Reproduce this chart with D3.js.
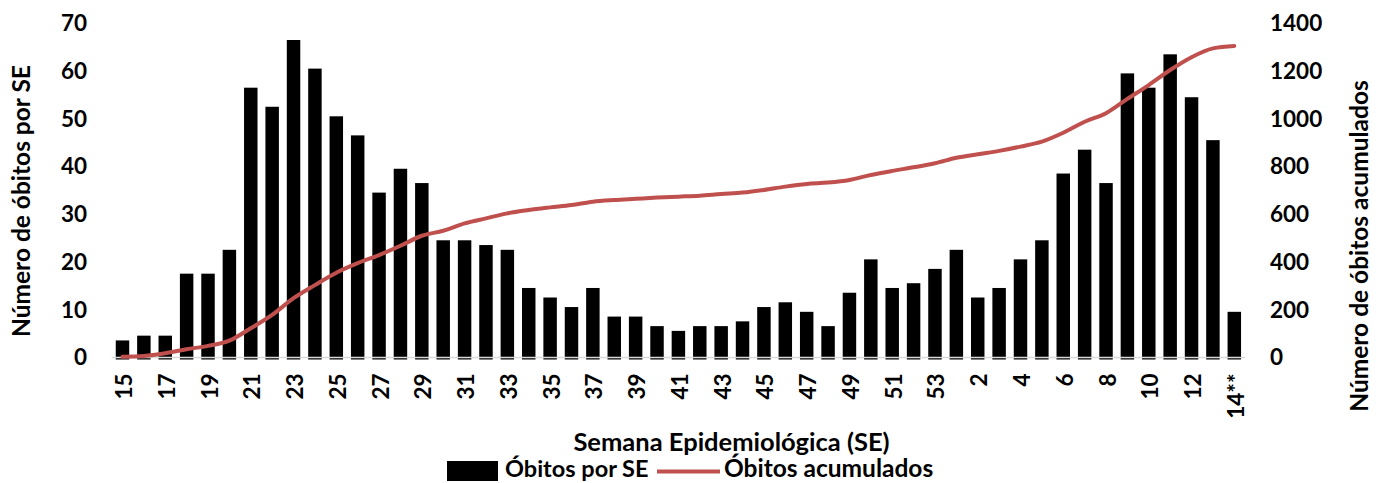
<!DOCTYPE html>
<html>
<head>
<meta charset="utf-8">
<script src="https://cdn.jsdelivr.net/npm/d3@7"></script>
<style>
  html, body { margin: 0; padding: 0; background: #fff; }
  svg { display: block; }
  text { font-family: Lato, "Open Sans", sans-serif; font-weight: bold; fill: #000; }
</style>
</head>
<body>
<svg id="chart" width="1381" height="483"></svg>
<script>
// Semana epidemiológica (2020: 15–53, 2021: 1–14**)
const semanas = ["15","16","17","18","19","20","21","22","23","24","25","26","27","28","29","30",
  "31","32","33","34","35","36","37","38","39","40","41","42","43","44","45","46","47","48","49",
  "50","51","52","53","1","2","3","4","5","6","7","8","9","10","11","12","13","14**"];

const obitosPorSE = [4,5,5,18,18,23,57,53,67,61,51,47,35,40,37,25,
  25,24,23,15,13,11,15,9,9,7,6,7,7,8,11,12,10,7,14,
  21,15,16,19,23,13,15,21,25,39,44,37,60,57,64,55,46,10];

const obitosAcumulados = [12,15,26,43,57,79,131,187,257,312,364,404,438,477,519,540,
  571,592,613,627,638,648,662,669,674,679,683,687,694,700,711,725,736,742,753,
  774,791,806,823,846,861,875,893,914,951,997,1033,1093,1151,1214,1268,1305,1315];

const ticksEsq = [0,10,20,30,40,50,60,70];
const ticksDir = [0,200,400,600,800,1000,1200,1400];

const tituloEsq = "Número de óbitos por SE";
const tituloDir = "Número de óbitos acumulados";
const tituloX = "Semana Epidemiológica (SE)";
const legendaBarras = "Óbitos por SE";
const legendaLinha = "Óbitos acumulados";

const corLinha = "#C0504D";
const fs = 22.5;

const svg = d3.select("#chart");

const idx = semanas.map((d, i) => i);
const x = d3.scaleBand().domain(idx).range([111.8, 1245.0]).paddingInner(0.37).paddingOuter(0.185);
const yL = d3.scaleLinear().domain([0, 70]).range([359.5, 25.7]);
const yR = d3.scaleLinear().domain([0, 1400]).range([359.5, 25.7]);

// bars
svg.append("g").selectAll("rect").data(obitosPorSE).join("rect")
  .attr("x", (d, i) => x(i))
  .attr("width", x.bandwidth())
  .attr("y", d => yL(d))
  .attr("height", d => yL(0) - yL(d))
  .attr("fill", "#000");

// category axis line
svg.append("line")
  .attr("x1", x.range()[0]).attr("x2", x.range()[1])
  .attr("y1", yL(0) - 2).attr("y2", yL(0) - 2)
  .attr("stroke", "#D9D9D9").attr("stroke-width", 1.6);

// line
const line = d3.line()
  .x((d, i) => x(i) + x.bandwidth() / 2)
  .y(d => yR(d))
  .curve(d3.curveMonotoneX);
svg.append("path").datum(obitosAcumulados)
  .attr("d", line)
  .attr("fill", "none")
  .attr("stroke", corLinha)
  .attr("stroke-width", 4)
  .attr("stroke-linecap", "round")
  .attr("stroke-linejoin", "round");

// left axis
const axL = svg.append("g").attr("transform", "translate(90,0)")
  .call(d3.axisLeft(yL).tickValues(ticksEsq).tickFormat(d3.format("d")).tickSize(0).tickPadding(3));
axL.select(".domain").remove();
axL.selectAll("text").attr("font-size", fs).attr("font-family", null).attr("transform", "translate(0,-2)");

// right axis
const axR = svg.append("g").attr("transform", "translate(1267,0)")
  .call(d3.axisRight(yR).tickValues(ticksDir).tickFormat(d3.format("d")).tickSize(0).tickPadding(3));
axR.select(".domain").remove();
axR.selectAll("text").attr("font-size", fs).attr("font-family", null).attr("transform", "translate(0,-2)");

// x axis labels (every other)
const axX = svg.append("g").attr("transform", `translate(0,${yL(0) + 14})`)
  .call(d3.axisBottom(x).tickValues(idx.filter(i => i % 2 === 0)).tickFormat(i => semanas[i]).tickSize(0).tickPadding(0));
axX.select(".domain").remove();
axX.selectAll("text")
  .attr("font-size", fs).attr("font-family", null)
  .attr("text-anchor", "end")
  .attr("dy", null)
  .attr("y", 0)
  .attr("transform", "rotate(-90) translate(0,1)")
  .attr("dominant-baseline", "central");

// titles
svg.append("text").attr("transform", "translate(20,201) rotate(-90)")
  .attr("text-anchor", "middle").attr("dominant-baseline", "central")
  .attr("font-size", 24.5).text(tituloEsq);
svg.append("text").attr("transform", "translate(1358,246) rotate(-90)")
  .attr("text-anchor", "middle").attr("dominant-baseline", "central")
  .attr("font-size", 24.5).text(tituloDir);
svg.append("text").attr("x", 731.5).attr("y", 451)
  .attr("text-anchor", "middle").attr("font-size", 25.5).text(tituloX);

// legend
const lg = svg.append("g");
lg.append("rect").attr("x", 447).attr("y", 461).attr("width", 51).attr("height", 20).attr("fill", "#000");
lg.append("text").attr("x", 505).attr("y", 477).attr("font-size", 23.5).text(legendaBarras);
lg.append("line").attr("x1", 657).attr("x2", 720).attr("y1", 471.5).attr("y2", 471.5)
  .attr("stroke", corLinha).attr("stroke-width", 4);
lg.append("text").attr("x", 724).attr("y", 477).attr("font-size", 24.5).text(legendaLinha);
</script>
</body>
</html>
